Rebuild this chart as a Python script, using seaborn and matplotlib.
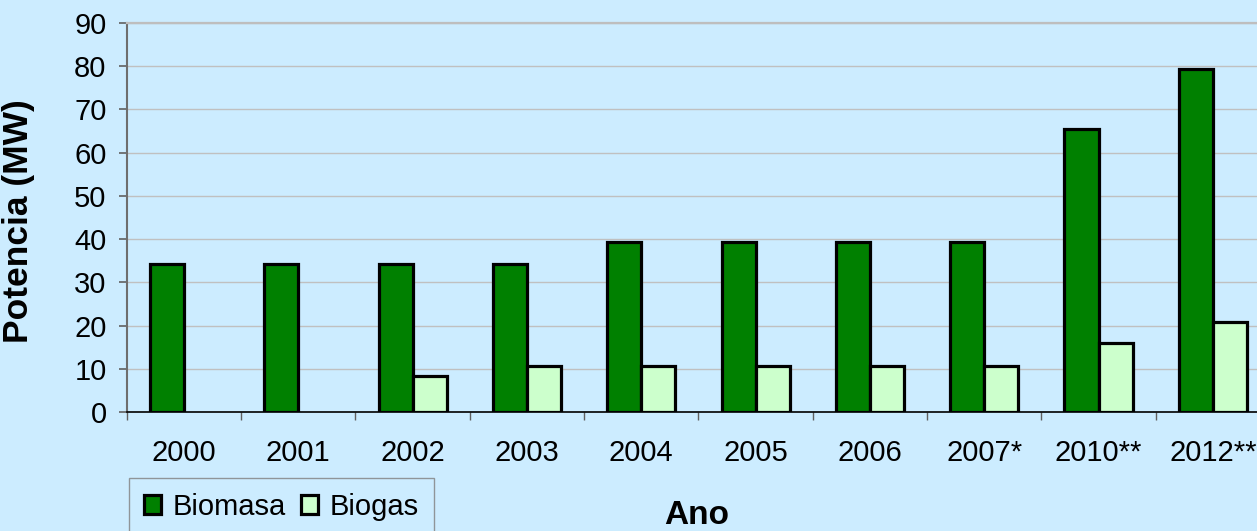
import numpy as np
import pandas as pd
import matplotlib
matplotlib.use("Agg")
import matplotlib.pyplot as plt
import seaborn as sns
from matplotlib.patches import Patch
from matplotlib.ticker import FixedLocator

anos = ["2000", "2001", "2002", "2003", "2004", "2005", "2006", "2007*", "2010**", "2012**"]
biomasa = [34.2, 34.2, 34.2, 34.2, 39.3, 39.3, 39.3, 39.3, 65.4, 79.2]
biogas = [np.nan, np.nan, 8.3, 10.8, 10.8, 10.8, 10.8, 10.8, 15.9, 20.9]
series = ["Biomasa", "Biogas"]
colores = ["#008000", "#CCFFCC"]
y_ticks = [0, 10, 20, 30, 40, 50, 60, 70, 80, 90]

df = pd.DataFrame({
    "Ano": anos * 2,
    "Potencia": biomasa + biogas,
    "Serie": [series[0]] * len(anos) + [series[1]] * len(anos),
})

sns.set_style("white")
plt.rcParams["font.family"] = ["Liberation Sans", "DejaVu Sans"]

BG = "#CCECFF"
W, H = 1257, 531
fig = plt.figure(figsize=(W / 100, H / 100), dpi=100, facecolor=BG)
left, right, top, bottom = 126.7, 1270, 22.7, 412.3
ax = fig.add_axes([left / W, 1 - bottom / H, (right - left) / W, (bottom - top) / H])
ax.set_facecolor(BG)

sns.barplot(data=df, x="Ano", y="Potencia", hue="Serie", hue_order=series,
            order=anos, palette=colores, saturation=1, width=0.595, edgecolor="black",
            linewidth=2.3, errorbar=None, legend=False, ax=ax, zorder=3)

ax.set_xlim(-0.5, len(anos) - 0.5)
ax.set_ylim(0, 90)
ax.set_yticks(y_ticks)
ax.yaxis.grid(True, color="#C0C0C0", linewidth=1.0, zorder=0)
ax.set_axisbelow(True)

ax.tick_params(axis="y", labelsize=21, length=7.7 * 0.72, width=1.2, color="#606060",
               pad=9, direction="out", left=True, labelcolor="black")
ax.tick_params(axis="x", which="major", labelsize=21, length=0, pad=19, labelcolor="black")
ax.xaxis.set_minor_locator(FixedLocator(np.arange(-0.5, len(anos), 1.0)))
ax.tick_params(axis="x", which="minor", length=8.4 * 0.72, width=1.0, color="#606060",
               direction="out", bottom=True)

ax.spines["right"].set_visible(False)
ax.spines["top"].set_color("#BEBEBE")
ax.spines["top"].set_linewidth(1.6)
ax.spines["left"].set_color("#6E6E6E")
ax.spines["left"].set_linewidth(1.5)
ax.spines["bottom"].set_color("black")
ax.spines["bottom"].set_linewidth(1.2)

ax.set_xlabel("")
ax.set_ylabel("Potencia (MW)", fontsize=25.5, fontweight="bold", color="black")
ax.yaxis.set_label_coords((35 - left) / (right - left), (bottom - 221) / (bottom - top))

fig.text(697 / W, 1 - 524 / H, "Ano", fontsize=24, fontweight="bold",
         ha="center", va="baseline", color="black")

handles = [Patch(facecolor=c, edgecolor="black", linewidth=2.3) for c in colores]
leg = fig.legend(handles, series, loc="upper left", bbox_to_anchor=(129.3 / W, 1 - 478 / H),
                 ncol=2, fontsize=21, frameon=True, fancybox=False, facecolor=BG,
                 edgecolor="#808080", borderpad=0.5, borderaxespad=0,
                 handlelength=0.6, handleheight=0.6, handletextpad=0.4,
                 columnspacing=0.5)
leg.get_frame().set_linewidth(1.0)
for t in leg.get_texts():
    t.set_color("black")

fig.savefig("out.png", dpi=100, facecolor=BG)
